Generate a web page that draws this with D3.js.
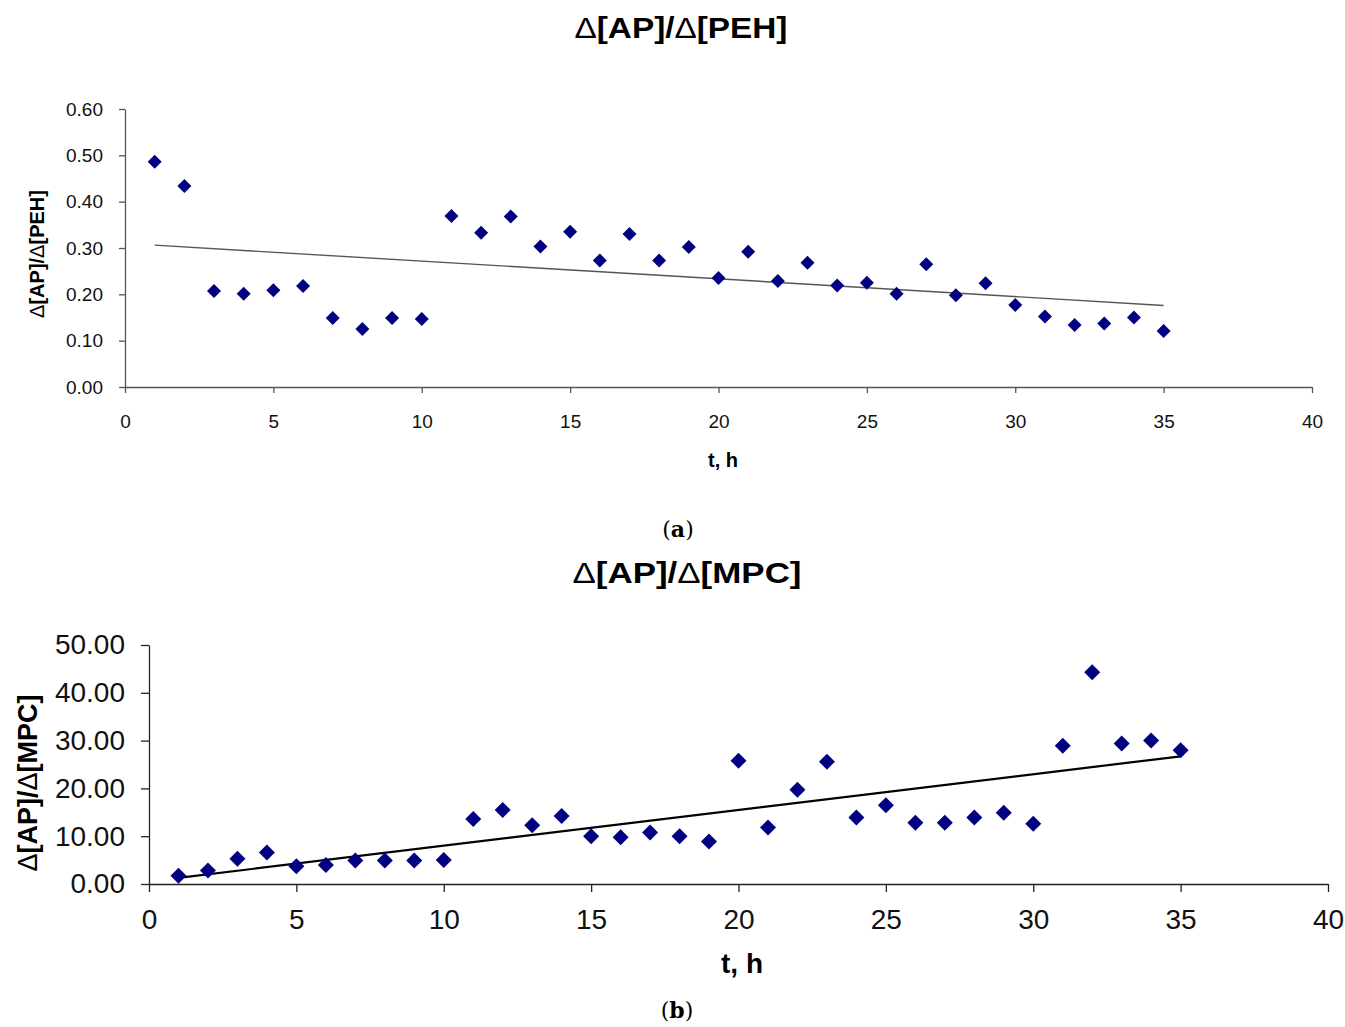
<!DOCTYPE html>
<html>
<head>
<meta charset="utf-8">
<script src="https://cdn.jsdelivr.net/npm/d3@7"></script>
<style>
  body { margin: 0; background: #fff; }
  svg { font-family: "Liberation Sans", Arial, sans-serif; }
</style>
</head>
<body>
<div id="chart"></div>
<script>
// data
const hours = d3.range(1, 36);
const pehRatio = [0.486, 0.434, 0.207, 0.201, 0.209, 0.218, 0.149, 0.125, 0.149, 0.147,
                  0.369, 0.333, 0.368, 0.303, 0.335, 0.273, 0.330, 0.273, 0.302, 0.235,
                  0.292, 0.229, 0.268, 0.219, 0.225, 0.201, 0.265, 0.198, 0.224, 0.177,
                  0.152, 0.134, 0.137, 0.150, 0.121];
const mpcRatio = [1.7, 2.8, 5.3, 6.6, 3.7, 4.0, 4.9, 4.9, 4.9, 5.0,
                  13.6, 15.5, 12.3, 14.2, 10.0, 9.8, 10.8, 10.0, 8.9, 25.8,
                  11.8, 19.7, 25.6, 13.9, 16.5, 12.8, 12.8, 13.9, 14.9, 12.6,
                  28.9, 44.3, 29.4, 30.0, 28.0];
const xTicks = [0, 5, 10, 15, 20, 25, 30, 35, 40];
const pehTicks = [0, 0.1, 0.2, 0.3, 0.4, 0.5, 0.6];
const mpcTicks = [0, 10, 20, 30, 40, 50];

const W = 1345, H = 1027;
const svg = d3.select("#chart").append("svg")
    .attr("width", W)
    .attr("height", H);

// least squares fit, like the excel trendline
function fit(xs, ys) {
    const mx = d3.mean(xs), my = d3.mean(ys);
    let num = 0, den = 0;
    for (let i = 0; i < xs.length; i++) {
        num += (xs[i] - mx) * (ys[i] - my);
        den += (xs[i] - mx) * (xs[i] - mx);
    }
    const b = num / den;
    return x => my + b * (x - mx);
}

function drawPanel(opt) {
    const x = d3.scaleLinear().domain([0, 40]).range([opt.left, opt.right]);
    const y = d3.scaleLinear().domain([0, opt.ymax]).range([opt.bottom, opt.top]);
    const g = svg.append("g");

    // title (delta is thin, rest bold)
    const t = g.append("text")
        .attr("x", opt.titleX).attr("y", opt.titleY)
        .attr("text-anchor", "middle")
        .attr("font-size", opt.titleSize)
        .attr("textLength", opt.titleLen)
        .attr("lengthAdjust", "spacingAndGlyphs");
    opt.title.forEach(p => t.append("tspan").attr("font-weight", p[1] ? "bold" : "normal").text(p[0]));

    // axes
    const xAxis = g.append("g")
        .attr("transform", "translate(0," + opt.bottom + ")")
        .call(d3.axisBottom(x).tickValues(xTicks).tickSize(opt.tick).tickSizeOuter(0).tickPadding(opt.xPad));
    const yAxis = g.append("g")
        .attr("transform", "translate(" + opt.left + ",0)")
        .call(d3.axisLeft(y).tickValues(opt.yTicks).tickSize(opt.tick).tickSizeOuter(0)
              .tickPadding(opt.yPad).tickFormat(d3.format(".2f")));
    [xAxis, yAxis].forEach(a => {
        a.selectAll("path, line").attr("stroke", opt.axisColor).attr("stroke-width", 1.3);
        a.selectAll("text").attr("fill", "#111")
            .attr("font-size", opt.tickSize)
            .attr("font-family", "'Liberation Sans', Arial, sans-serif");
    });

    // axis titles
    g.append("text")
        .attr("x", opt.xLabelX).attr("y", opt.xLabelY)
        .attr("text-anchor", "middle")
        .attr("font-size", opt.labelSize)
        .attr("font-weight", "bold")
        .text("t, h");
    const yl = g.append("text")
        .attr("transform", "translate(" + opt.yLabelX + "," + opt.yLabelY + ") rotate(-90)")
        .attr("text-anchor", "middle")
        .attr("font-size", opt.ylabelSize);
    opt.title.forEach(p => yl.append("tspan").attr("font-weight", p[1] ? "bold" : "normal").text(p[0]));

    // trendline
    const f = fit(hours, opt.values);
    g.append("line")
        .attr("x1", x(hours[0])).attr("y1", y(f(hours[0])))
        .attr("x2", x(hours[hours.length - 1])).attr("y2", y(f(hours[hours.length - 1])))
        .attr("stroke", opt.trendColor)
        .attr("stroke-width", opt.trendWidth);

    // points
    const s = opt.marker;
    g.selectAll("path.pt")
        .data(opt.values)
        .enter()
        .append("path")
        .attr("class", "pt")
        .attr("d", "M0," + (-s) + "L" + s + ",0L0," + s + "L" + (-s) + ",0Z")
        .attr("transform", (d, i) => "translate(" + x(hours[i]) + "," + y(d) + ")")
        .attr("fill", "#000080");

    // panel letter
    const c = svg.append("text")
        .attr("x", opt.capX).attr("y", opt.capY)
        .attr("text-anchor", "middle")
        .attr("font-size", 22)
        .attr("font-family", "'DejaVu Serif', 'Liberation Serif', serif");
    c.append("tspan").text("(");
    c.append("tspan").attr("font-weight", "bold").text(opt.cap);
    c.append("tspan").text(")");
}

drawPanel({
    values: pehRatio, ymax: 0.6, yTicks: pehTicks,
    left: 125, right: 1312, top: 109, bottom: 387,
    title: [["Δ", false], ["[AP]/", true], ["Δ", false], ["[PEH]", true]],
    titleX: 681, titleY: 38, titleSize: 29, titleLen: 213,
    tick: 6, tickSize: 19, xPad: 22, yPad: 16,
    axisColor: "#555",
    labelSize: 20, xLabelX: 723, xLabelY: 467,
    ylabelSize: 20, yLabelX: 44, yLabelY: 254,
    trendColor: "#555", trendWidth: 1.4,
    marker: 7,
    cap: "a", capX: 678, capY: 537
});

drawPanel({
    values: mpcRatio, ymax: 50, yTicks: mpcTicks,
    left: 149, right: 1328, top: 645, bottom: 884,
    title: [["Δ", false], ["[AP]/", true], ["Δ", false], ["[MPC]", true]],
    titleX: 687, titleY: 583, titleSize: 30, titleLen: 229,
    tick: 8, tickSize: 28, xPad: 17, yPad: 16,
    axisColor: "#222",
    labelSize: 28, xLabelX: 742, xLabelY: 973,
    ylabelSize: 27, yLabelX: 37, yLabelY: 783,
    trendColor: "#000", trendWidth: 2.2,
    marker: 8,
    cap: "b", capX: 677, capY: 1018
});
</script>
</body>
</html>
